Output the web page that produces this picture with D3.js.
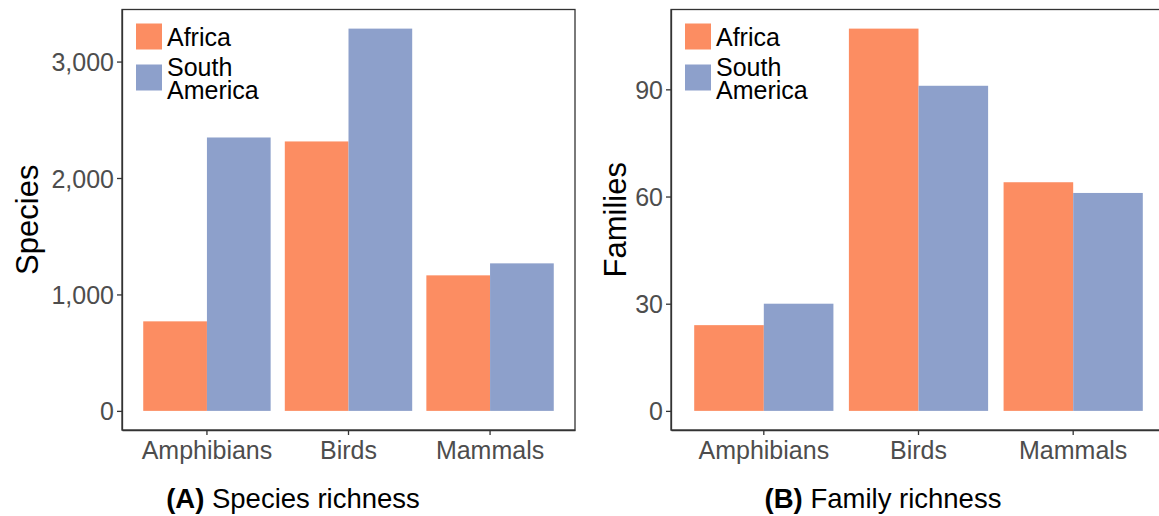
<!DOCTYPE html>
<html>
<head>
<meta charset="utf-8">
<script src="https://cdn.jsdelivr.net/npm/d3@7"></script>
<style>
  body { margin: 0; background: #fff; }
  text { font-family: "Liberation Sans", Arial, sans-serif; }
</style>
</head>
<body>
<div id="chart"></div>
<script>
// data
var categories = ["Amphibians", "Birds", "Mammals"];
var seriesNames = ["Africa", "South America"];
var speciesAfrica = [769, 2314, 1164];
var speciesSouthAmerica = [2348, 3283, 1267];
var familiesAfrica = [24, 107, 64];
var familiesSouthAmerica = [30, 91, 61];
var speciesTicks = [0, 1000, 2000, 3000];
var familiesTicks = [0, 30, 60, 90];
var colours = ["#fc8d62", "#8da0cb"];

var width = 1159, height = 516;
var svg = d3.select("#chart").append("svg")
    .attr("width", width)
    .attr("height", height);

function drawPanel(p) {
    var rows = categories.map((c, i) => {
        return {cat: c, values: [p.a[i], p.b[i]]};
    });
    var maxV = d3.max(rows, (d) => d3.max(d.values));
    // ggplot style expansion
    var y = d3.scaleLinear()
        .domain([-0.05 * maxV, maxV * 1.05])
        .range([p.bottom, p.top]);
    var x = d3.scaleBand()
        .domain(categories)
        .range([p.left, p.right])
        .paddingInner(0.1)
        .paddingOuter(0.15);
    var xSub = d3.scaleBand()
        .domain(seriesNames)
        .range([0, x.bandwidth()]);

    var g = svg.append("g");
    // bars
    g.selectAll("g.grp")
        .data(rows).enter()
        .append("g")
        .attr("class", "grp")
        .attr("transform", (d) => "translate(" + x(d.cat) + ",0)")
        .selectAll("rect")
        .data((d) => d.values).enter()
        .append("rect")
        .attr("x", (d, i) => xSub(seriesNames[i]))
        .attr("width", xSub.bandwidth())
        .attr("y", (d) => y(d))
        .attr("height", (d) => y(0) - y(d))
        .attr("fill", (d, i) => colours[i]);

    // panel border
    g.append("rect")
        .attr("x", p.left)
        .attr("y", p.top)
        .attr("width", p.right - p.left)
        .attr("height", p.bottom - p.top)
        .attr("fill", "none")
        .attr("stroke", "#333")
        .attr("stroke-width", 1.3);

    // axes
    var yAxis = d3.axisLeft(y)
        .tickValues(p.ticks)
        .tickSize(5)
        .tickSizeOuter(0)
        .tickPadding(3)
        .tickFormat(d3.format(","));
    var ya = g.append("g")
        .attr("transform", "translate(" + p.left + ",0)")
        .call(yAxis);
    var xAxis = d3.axisBottom(x).tickSize(5).tickSizeOuter(0).tickPadding(5);
    var xa = g.append("g")
        .attr("transform", "translate(0," + p.bottom + ")")
        .call(xAxis);
    [ya, xa].forEach((a) => {
        a.select(".domain").attr("stroke", "#333").attr("stroke-width", 1.3);
        a.selectAll(".tick line").attr("stroke", "#333").attr("stroke-width", 1.3);
        a.selectAll(".tick text")
            .attr("fill", "#4d4d4d")
            .style("font-size", "25px")
            .style("font-family", "'Liberation Sans', Arial, sans-serif");
    });
    ya.selectAll(".tick text").attr("dy", "0.36em");
    xa.selectAll(".tick text").attr("dy", "0.75em");

    // y title
    g.append("text")
        .attr("transform", "translate(" + p.titleX + "," + ((p.top + p.bottom) / 2) + ") rotate(-90)")
        .attr("text-anchor", "middle")
        .style("font-size", "31px")
        .attr("fill", "#000")
        .text(p.yTitle);

    // legend
    var leg = g.append("g")
        .attr("transform", "translate(" + (p.left + 14) + "," + (p.top + 14) + ")");
    leg.append("rect").attr("x", 0).attr("y", 0).attr("width", 26).attr("height", 26)
        .attr("fill", colours[0]);
    leg.append("text").attr("x", 31).attr("y", 22).style("font-size", "25px")
        .text(seriesNames[0]);
    leg.append("rect").attr("x", 0).attr("y", 41).attr("width", 26).attr("height", 26)
        .attr("fill", colours[1]);
    var t = leg.append("text").attr("x", 31).attr("y", 52).style("font-size", "25px");
    t.append("tspan").attr("x", 31).text(seriesNames[1].split(" ")[0]);
    t.append("tspan").attr("x", 31).attr("dy", 23).text(seriesNames[1].split(" ")[1]);

    // caption
    var cap = svg.append("text")
        .attr("x", p.capX)
        .attr("y", 508)
        .attr("text-anchor", "middle")
        .style("font-size", "27.5px");
    cap.append("tspan").style("font-weight", "bold").text(p.capBold);
    cap.append("tspan").text(" " + p.capText);
}

drawPanel({
    a: speciesAfrica, b: speciesSouthAmerica, ticks: speciesTicks,
    left: 122, right: 575, top: 9.5, bottom: 430,
    yTitle: "Species", titleX: 38,
    capX: 293, capBold: "(A)", capText: "Species richness"
});
drawPanel({
    a: familiesAfrica, b: familiesSouthAmerica, ticks: familiesTicks,
    left: 671, right: 1166, top: 9.5, bottom: 430,
    yTitle: "Families", titleX: 626,
    capX: 883, capBold: "(B)", capText: "Family richness"
});
</script>
</body>
</html>
